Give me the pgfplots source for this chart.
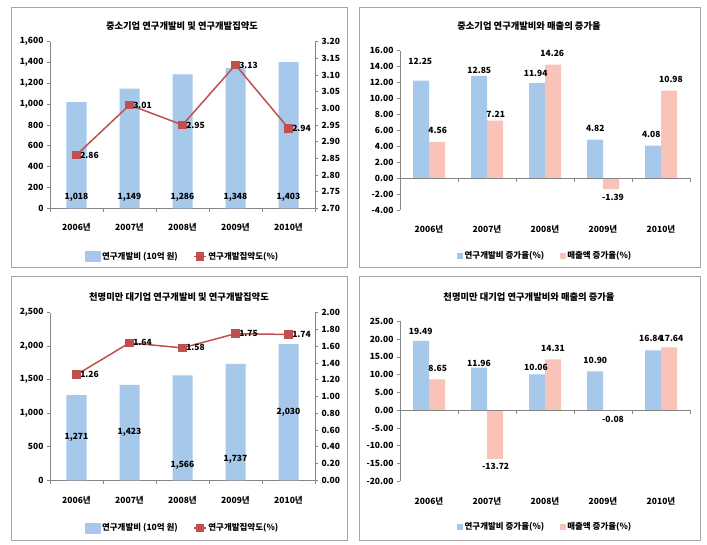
\documentclass[border=0pt]{standalone}
\usepackage{pgfplots}
\pgfplotsset{compat=1.18}
\usepackage{fontspec}
\setmainfont{Noto Sans CJK KR}
\definecolor{barblue}{RGB}{165,200,235}
\definecolor{barpink}{RGB}{250,195,183}
\definecolor{linered}{RGB}{192,80,77}
\definecolor{axgray}{RGB}{134,134,134}
\definecolor{framegray}{RGB}{165,165,165}
\tikzset{lbl/.style={font=\bfseries\fontsize{8.5}{10}\selectfont, inner sep=1pt}}
\pgfplotsset{
  base/.style={scale only axis, xmin=-0.5, xmax=4.5, clip=false,
    axis line style={axgray, line width=0.6pt},
    tick style={axgray, line width=0.6pt}, tick align=outside, major tick length=3pt,
    /pgf/number format/assume math mode=true,
    ticklabel style={font=\bfseries\fontsize{8.5}{10}\selectfont, text=black},
    legend style={draw=none, fill=none, legend columns=2, font=\bfseries\fontsize{8.5}{10}\selectfont,
      nodes={inner xsep=1.5pt},
      /tikz/every even column/.style={column sep=14pt}},
  },
  xcats/.style={xtick={0,1,2,3,4}, xticklabels={2006년,2007년,2008년,2009년,2010년},
    xtick style={draw=none}, xticklabel style={yshift=-9pt}},
  redline/.style={linered, line width=1.5pt, mark=square*, mark size=3.5pt,
    mark options={fill=linered, draw=linered},
    nodes near coords={\pgfmathprintnumber[fixed,fixed zerofill,precision=2]{\pgfplotspointmeta}},
    nodes near coords style={anchor=west, xshift=2pt, font=\bfseries\fontsize{8.5}{10}\selectfont, text=black, inner sep=1pt},
    legend image code/.code={\draw[mark repeat=2,mark phase=2,##1] plot coordinates {(0pt,0pt) (6pt,0pt) (12pt,0pt)};}},
  bigswatch/.style={legend image code/.code={\fill[barblue] (0pt,-5pt) rectangle (15pt,5pt);}},
}
\newcommand{\cattick}{\pgfplotsinvokeforeach{-0.5,0.5,1.5,2.5,3.5,4.5}{\draw[axgray, line width=0.6pt] (axis cs:##1,0) -- ++(0pt,-4pt);}}
\begin{document}
\begin{tikzpicture}
\useasboundingbox (0pt,0pt) rectangle (707pt,545pt);
\fill[white] (0pt,0pt) rectangle (707pt,545pt);
% panel frames
\draw[framegray, line width=0.8pt] (11pt,278pt) rectangle (347pt,538pt);
\draw[framegray, line width=0.8pt] (359pt,278pt) rectangle (700pt,538pt);
\draw[framegray, line width=0.8pt] (11pt,5pt) rectangle (347pt,269pt);
\draw[framegray, line width=0.8pt] (359pt,5pt) rectangle (700pt,269pt);
% titles
\node[font=\bfseries\fontsize{9.3}{11}\selectfont] at (182pt,519pt) {중소기업 연구개발비 및 연구개발집약도};
\node[font=\bfseries\fontsize{9.3}{11}\selectfont] at (529pt,519pt) {중소기업 연구개발비와 매출의 증가율};
\node[font=\bfseries\fontsize{9.3}{11}\selectfont] at (179pt,248pt) {천명미만 대기업 연구개발비 및 연구개발집약도};
\node[font=\bfseries\fontsize{9.3}{11}\selectfont] at (529pt,248pt) {천명미만 대기업 연구개발비와 매출의 증가율};

%% ---------------- TOP LEFT ----------------
\begin{axis}[base, xcats, at={(50pt,336.7pt)}, anchor=south west, width=265pt, height=166.7pt,
  ymin=0, ymax=1600, ytick={0,200,...,1600}, axis y line*=left, axis x line*=bottom,
  ybar, bar width=20pt,
  yticklabel style={/pgf/number format/1000 sep={,}}]
\addplot[fill=barblue, draw=none] coordinates {(0,1018) (1,1149) (2,1286) (3,1348) (4,1403)};
\cattick
\node[lbl] at (axis cs:0,106) {1,018};
\node[lbl] at (axis cs:1,106) {1,149};
\node[lbl] at (axis cs:2,106) {1,286};
\node[lbl] at (axis cs:3,106) {1,348};
\node[lbl] at (axis cs:4,106) {1,403};
\end{axis}
\begin{axis}[base, at={(50pt,336.7pt)}, anchor=south west, width=265pt, height=166.7pt,
  ymin=2.7, ymax=3.2, ytick={2.70,2.75,2.80,2.85,2.90,2.95,3.00,3.05,3.10,3.15,3.20},
  axis y line*=right, axis x line=none,
  yticklabel style={/pgf/number format/.cd, fixed, fixed zerofill, precision=2},
  legend style={at={(0.5,-0.289)}, anchor=center}]
\addlegendimage{bigswatch}
\addlegendentry{연구개발비 (10억 원)}
\addplot[redline] coordinates {(0,2.86) (1,3.01) (2,2.95) (3,3.13) (4,2.94)};
\addlegendentry{연구개발집약도(\%)}
\end{axis}

%% ---------------- TOP RIGHT ----------------
\begin{axis}[base, xcats, at={(400pt,335pt)}, anchor=south west, width=290pt, height=159.3pt,
  ymin=-4, ymax=16, ytick={-4,-2,...,16}, axis y line*=left, axis x line*=bottom,
  x axis line style={draw=none},
  ybar=0pt, bar width=16pt,
  yticklabel style={/pgf/number format/.cd, fixed, fixed zerofill, precision=2},
  legend style={at={(0.5,-0.289)}, anchor=center}]
\addplot[fill=barblue, draw=none, legend image code/.code={\fill[barblue] (0pt,-3pt) rectangle (6pt,3pt);}]
  coordinates {(0,12.25) (1,12.85) (2,11.94) (3,4.82) (4,4.08)};
\addlegendentry{연구개발비 증가율(\%)}
\addplot[fill=barpink, draw=none, legend image code/.code={\fill[barpink] (0pt,-3pt) rectangle (6pt,3pt);}]
  coordinates {(0,4.56) (1,7.21) (2,14.26) (3,-1.39) (4,10.98)};
\addlegendentry{매출액 증가율(\%)}
\draw[axgray, line width=0.6pt] (axis cs:-0.5,0) -- (axis cs:4.5,0);
\cattick
\node[lbl, xshift=-8.7pt] at (axis cs:0,14.65) {12.25};
\node[lbl, xshift=8.7pt] at (axis cs:0,5.94) {4.56};
\node[lbl, xshift=-7.7pt] at (axis cs:1,13.48) {12.85};
\node[lbl, xshift=8.7pt] at (axis cs:1,7.95) {7.21};
\node[lbl, xshift=-9.3pt] at (axis cs:2,13.1) {11.94};
\node[lbl, xshift=7.3pt] at (axis cs:2,15.7) {14.26};
\node[lbl, xshift=-7.7pt] at (axis cs:3,6.27) {4.82};
\node[lbl, xshift=10pt] at (axis cs:3,-2.45) {-1.39};
\node[lbl, xshift=-9.7pt] at (axis cs:4,5.52) {4.08};
\node[lbl, xshift=10pt] at (axis cs:4,12.35) {10.98};
\end{axis}

%% ---------------- BOTTOM LEFT ----------------
\begin{axis}[base, xcats, at={(50pt,64.7pt)}, anchor=south west, width=265pt, height=167.6pt,
  ymin=0, ymax=2500, ytick={0,500,...,2500}, axis y line*=left, axis x line*=bottom,
  ybar, bar width=20pt,
  yticklabel style={/pgf/number format/1000 sep={,}}]
\addplot[fill=barblue, draw=none] coordinates {(0,1271) (1,1423) (2,1566) (3,1737) (4,2030)};
\cattick
\node[lbl] at (axis cs:0,635) {1,271};
\node[lbl] at (axis cs:1,710) {1,423};
\node[lbl] at (axis cs:2,224) {1,566};
\node[lbl] at (axis cs:3,307) {1,737};
\node[lbl] at (axis cs:4,1018) {2,030};
\end{axis}
\begin{axis}[base, at={(50pt,64.7pt)}, anchor=south west, width=265pt, height=167.6pt,
  ymin=0, ymax=2, ytick={0,0.2,0.4,0.6,0.8,1.0,1.2,1.4,1.6,1.8,2.0},
  axis y line*=right, axis x line=none,
  yticklabel style={/pgf/number format/.cd, fixed, fixed zerofill, precision=2},
  legend style={at={(0.5,-0.284)}, anchor=center}]
\addlegendimage{bigswatch}
\addlegendentry{연구개발비 (10억 원)}
\addplot[redline] coordinates {(0,1.26) (1,1.64) (2,1.58) (3,1.75) (4,1.74)};
\addlegendentry{연구개발집약도(\%)}
\end{axis}

%% ---------------- BOTTOM RIGHT ----------------
\begin{axis}[base, xcats, at={(400pt,63.7pt)}, anchor=south west, width=290pt, height=160pt,
  ymin=-20, ymax=25, ytick={-20,-15,...,25}, axis y line*=left, axis x line*=bottom,
  x axis line style={draw=none},
  ybar=0pt, bar width=16pt,
  yticklabel style={/pgf/number format/.cd, fixed, fixed zerofill, precision=2},
  legend style={at={(0.5,-0.285)}, anchor=center}]
\addplot[fill=barblue, draw=none, legend image code/.code={\fill[barblue] (0pt,-3pt) rectangle (6pt,3pt);}]
  coordinates {(0,19.49) (1,11.96) (2,10.06) (3,10.90) (4,16.84)};
\addlegendentry{연구개발비 증가율(\%)}
\addplot[fill=barpink, draw=none, legend image code/.code={\fill[barpink] (0pt,-3pt) rectangle (6pt,3pt);}]
  coordinates {(0,8.65) (1,-13.72) (2,14.31) (3,-0.08) (4,17.64)};
\addlegendentry{매출액 증가율(\%)}
\draw[axgray, line width=0.6pt] (axis cs:-0.5,0) -- (axis cs:4.5,0);
\cattick
\node[lbl, xshift=-8.3pt] at (axis cs:0,22.2) {19.49};
\node[lbl, xshift=8.7pt] at (axis cs:0,11.7) {8.65};
\node[lbl, xshift=-8pt] at (axis cs:1,13.1) {11.96};
\node[lbl, xshift=8.7pt] at (axis cs:1,-15.7) {-13.72};
\node[lbl, xshift=-9pt] at (axis cs:2,12.0) {10.06};
\node[lbl, xshift=8pt] at (axis cs:2,17.5) {14.31};
\node[lbl, xshift=-7.7pt] at (axis cs:3,13.9) {10.90};
\node[lbl, xshift=10pt] at (axis cs:3,-2.56) {-0.08};
\node[lbl, xshift=-10pt] at (axis cs:4,20.1) {16.84};
\node[lbl, xshift=10.5pt] at (axis cs:4,20.1) {17.64};
\end{axis}
\end{tikzpicture}
\end{document}
